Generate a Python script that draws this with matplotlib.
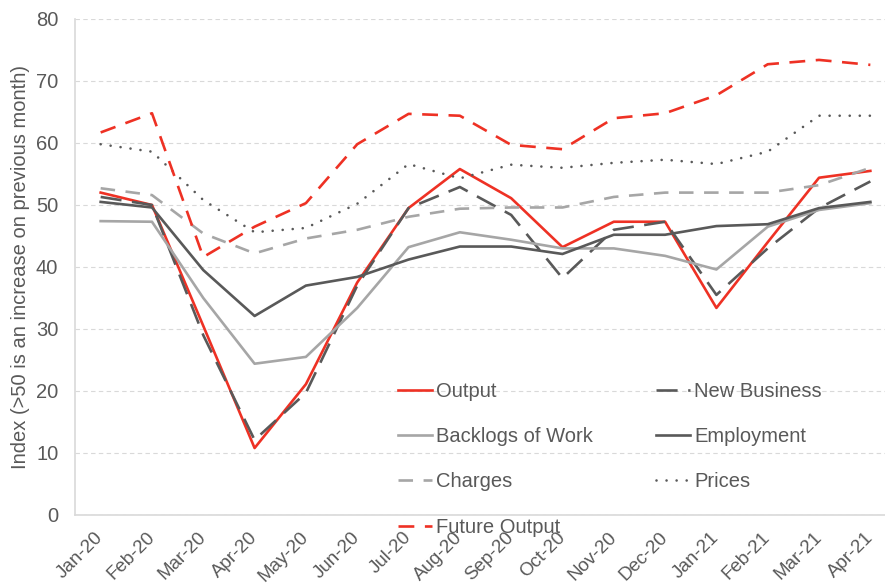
import matplotlib
matplotlib.use("Agg")
import matplotlib.pyplot as plt
from matplotlib.transforms import ScaledTranslation

plt.rcParams['font.family'] = ['Liberation Sans', 'DejaVu Sans']

months = ["Jan-20", "Feb-20", "Mar-20", "Apr-20", "May-20", "Jun-20", "Jul-20", "Aug-20",
          "Sep-20", "Oct-20", "Nov-20", "Dec-20", "Jan-21", "Feb-21", "Mar-21", "Apr-21"]

output = [52.0, 50.0, 30.5, 10.8, 21.1, 37.5, 49.5, 55.8, 51.1, 43.2, 47.3, 47.3, 33.4, 44.0, 54.4, 55.5]
new_business = [51.3, 50.0, 29.0, 12.1, 19.7, 37.0, 49.5, 52.9, 48.4, 38.2, 46.0, 47.3, 35.5, 43.0, 49.5, 53.8]
backlogs = [47.4, 47.3, 35.0, 24.4, 25.5, 33.4, 43.2, 45.6, 44.4, 43.0, 43.0, 41.8, 39.6, 46.5, 49.2, 50.3]
employment = [50.5, 49.6, 39.5, 32.1, 37.0, 38.4, 41.2, 43.3, 43.3, 42.1, 45.2, 45.2, 46.6, 46.9, 49.5, 50.5]
charges = [52.7, 51.6, 45.4, 42.2, 44.6, 46.0, 48.1, 49.4, 49.6, 49.6, 51.3, 52.0, 52.0, 52.0, 53.2, 56.0]
prices = [59.8, 58.6, 50.8, 45.6, 46.3, 50.2, 56.6, 54.3, 56.5, 56.0, 56.8, 57.3, 56.6, 58.6, 64.4, 64.4]
future_output = [61.7, 64.8, 41.6, 46.5, 50.3, 59.8, 64.7, 64.4, 59.7, 59.0, 64.0, 64.8, 67.7, 72.7, 73.4, 72.6]

red = "#EE3124"
dark = "#595959"
light = "#A6A6A6"
txt = "#595959"
fs = 14.5

fig = plt.figure(figsize=(8.85, 5.85), dpi=100)
ax = fig.add_axes([75 / 885, 70 / 585, 821 / 885, 496 / 585])

x = range(len(months))
lw = 1.9
l_out, = ax.plot(x, output, color=red, lw=lw, label="Output")
l_nb, = ax.plot(x, new_business, color=dark, lw=lw, ls=(0, (8, 4)), label="New Business")
l_bw, = ax.plot(x, backlogs, color=light, lw=lw, label="Backlogs of Work")
l_emp, = ax.plot(x, employment, color=dark, lw=lw, label="Employment")
l_ch, = ax.plot(x, charges, color=light, lw=lw, ls=(0, (5.5, 4)), label="Charges")
l_pr, = ax.plot(x, prices, color=dark, lw=lw, ls=(0, (0.01, 3.8)), dash_capstyle="round", label="Prices")
l_fo, = ax.plot(x, future_output, color=red, lw=lw, ls=(0, (6, 4)), label="Future Output")

ax.set_xlim(-0.5, len(months) - 0.5)
ax.set_ylim(0, 80)
ax.set_yticks(range(0, 81, 10))
ax.set_xticks(list(x))
ax.set_xticklabels(months, rotation=45, ha="right", rotation_mode="anchor")
ax.tick_params(axis="both", length=0, colors=txt, labelsize=fs)
ax.tick_params(axis="x", pad=10, labelsize=13.5)
ax.tick_params(axis="y", pad=12)
# nudge month labels left so their ends sit at the tick
shift = ScaledTranslation(-6 / 100, 0, fig.dpi_scale_trans)
for lab in ax.get_xticklabels():
    lab.set_transform(lab.get_transform() + shift)
ax.grid(axis="y", color="#D9D9D9", ls=(0, (4, 3)), lw=0.8)
ax.set_axisbelow(True)
for s in ["top", "right"]:
    ax.spines[s].set_visible(False)
for s in ["left", "bottom"]:
    ax.spines[s].set_color("#D9D9D9")
    ax.spines[s].set_linewidth(1.2)

ax.set_ylabel("Index (>50 is an increase on previous month)", color=txt, fontsize=fs, labelpad=4)

# legend filled row by row: col 1 then col 2
handles = [l_out, l_bw, l_ch, l_fo, l_nb, l_emp, l_pr]
ax.legend(handles, [h.get_label() for h in handles], ncol=2, loc="upper left",
          bbox_to_anchor=(0.393, 0.268), frameon=False,
          fontsize=fs, labelcolor=txt, handlelength=1.7, handletextpad=0.2,
          columnspacing=3.15, labelspacing=1.3, borderpad=0, borderaxespad=0)

fig.savefig("out.png", dpi=100)
